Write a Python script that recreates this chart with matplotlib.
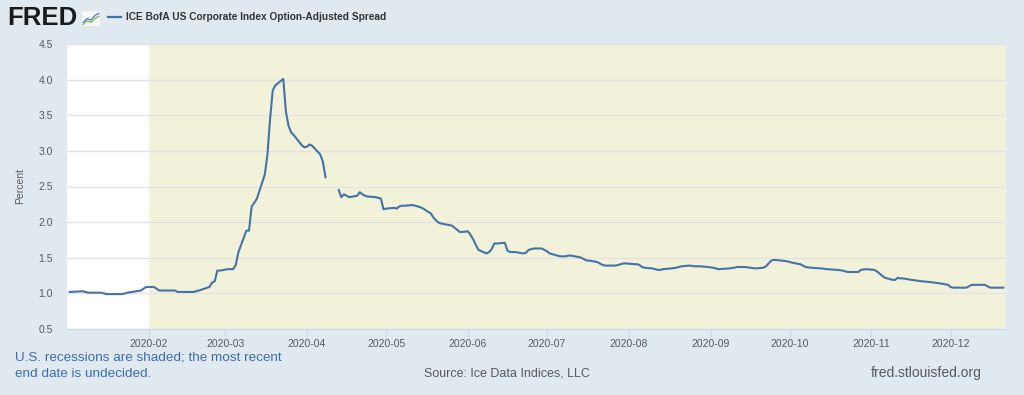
import matplotlib.pyplot as plt
import matplotlib.dates as mdates
import numpy as np
import pandas as pd

# ICE BofA US Corporate Index OAS, 2020 (percent); NaN marks the missing stretch in April
dates = [
    "2020-01-02", "2020-01-07", "2020-01-09", "2020-01-14", "2020-01-16", "2020-01-22",
    "2020-01-24", "2020-01-29", "2020-01-31", "2020-02-03", "2020-02-05", "2020-02-07",
    "2020-02-11", "2020-02-12", "2020-02-18", "2020-02-20", "2020-02-24", "2020-02-25",
    "2020-02-26", "2020-02-27", "2020-02-28", "2020-03-02", "2020-03-04", "2020-03-05",
    "2020-03-06", "2020-03-09", "2020-03-10", "2020-03-11", "2020-03-12", "2020-03-13",
    "2020-03-16", "2020-03-17", "2020-03-18", "2020-03-19", "2020-03-20", "2020-03-23",
    "2020-03-24", "2020-03-25", "2020-03-26", "2020-03-27", "2020-03-30", "2020-03-31",
    "2020-04-01", "2020-04-02", "2020-04-03", "2020-04-06", "2020-04-07", "2020-04-08",
    "2020-04-10", "2020-04-13", "2020-04-14", "2020-04-15", "2020-04-16", "2020-04-17",
    "2020-04-20", "2020-04-21", "2020-04-22", "2020-04-23", "2020-04-24", "2020-04-27",
    "2020-04-28", "2020-04-29", "2020-04-30", "2020-05-01", "2020-05-04", "2020-05-05",
    "2020-05-06", "2020-05-07", "2020-05-08", "2020-05-11", "2020-05-12", "2020-05-13",
    "2020-05-14", "2020-05-15", "2020-05-18", "2020-05-19", "2020-05-20", "2020-05-21",
    "2020-05-22", "2020-05-26", "2020-05-27", "2020-05-28", "2020-05-29", "2020-06-01",
    "2020-06-02", "2020-06-03", "2020-06-04", "2020-06-05", "2020-06-08", "2020-06-09",
    "2020-06-10", "2020-06-11", "2020-06-12", "2020-06-15", "2020-06-16", "2020-06-17",
    "2020-06-18", "2020-06-19", "2020-06-22", "2020-06-23", "2020-06-24", "2020-06-25",
    "2020-06-26", "2020-06-29", "2020-06-30", "2020-07-01", "2020-07-02", "2020-07-06",
    "2020-07-07", "2020-07-08", "2020-07-09", "2020-07-10", "2020-07-13", "2020-07-14",
    "2020-07-15", "2020-07-16", "2020-07-17", "2020-07-20", "2020-07-21", "2020-07-22",
    "2020-07-23", "2020-07-24", "2020-07-27", "2020-07-28", "2020-07-29", "2020-07-30",
    "2020-07-31", "2020-08-03", "2020-08-04", "2020-08-05", "2020-08-06", "2020-08-07",
    "2020-08-10", "2020-08-11", "2020-08-12", "2020-08-13", "2020-08-14", "2020-08-17",
    "2020-08-19", "2020-08-21", "2020-08-24", "2020-08-26", "2020-08-28", "2020-08-31",
    "2020-09-02", "2020-09-04", "2020-09-08", "2020-09-10", "2020-09-11", "2020-09-14",
    "2020-09-16", "2020-09-18", "2020-09-21", "2020-09-22", "2020-09-23", "2020-09-24",
    "2020-09-25", "2020-09-28", "2020-09-30", "2020-10-02", "2020-10-05", "2020-10-07",
    "2020-10-09", "2020-10-13", "2020-10-15", "2020-10-19", "2020-10-21", "2020-10-23",
    "2020-10-26", "2020-10-27", "2020-10-28", "2020-10-30", "2020-11-02", "2020-11-03",
    "2020-11-04", "2020-11-05", "2020-11-06", "2020-11-09", "2020-11-10", "2020-11-11",
    "2020-11-12", "2020-11-13", "2020-11-16", "2020-11-18", "2020-11-20", "2020-11-23",
    "2020-11-25", "2020-11-27", "2020-11-30", "2020-12-01", "2020-12-02", "2020-12-04",
    "2020-12-07", "2020-12-08", "2020-12-09", "2020-12-11", "2020-12-14", "2020-12-15",
    "2020-12-16", "2020-12-18", "2020-12-21",
]
spread = [
    1.02, 1.03, 1.01, 1.01, 0.99, 0.99,
    1.01, 1.04, 1.09, 1.09, 1.04, 1.04,
    1.04, 1.02, 1.02, 1.04, 1.09, 1.15,
    1.17, 1.32, 1.32, 1.34, 1.34, 1.40,
    1.58, 1.88, 1.88, 2.22, 2.27, 2.33,
    2.67, 2.95, 3.45, 3.85, 3.92, 4.01,
    3.55, 3.35, 3.26, 3.22, 3.08, 3.05,
    3.06, 3.09, 3.07, 2.95, 2.85, 2.63,
    np.nan, 2.45, 2.35, 2.39, 2.37, 2.35,
    2.37, 2.42, 2.39, 2.37, 2.36, 2.35,
    2.34, 2.33, 2.18, 2.19, 2.20, 2.19,
    2.22, 2.23, 2.23, 2.24, 2.23, 2.22,
    2.21, 2.19, 2.12, 2.06, 2.02, 1.99,
    1.98, 1.95, 1.92, 1.89, 1.86, 1.87,
    1.82, 1.76, 1.68, 1.61, 1.56, 1.58,
    1.62, 1.70, 1.70, 1.71, 1.60, 1.58,
    1.58, 1.58, 1.56, 1.57, 1.61, 1.62,
    1.63, 1.63, 1.61, 1.59, 1.56, 1.52,
    1.52, 1.52, 1.53, 1.53, 1.51, 1.50,
    1.48, 1.46, 1.46, 1.44, 1.42, 1.40,
    1.39, 1.39, 1.39, 1.40, 1.41, 1.42,
    1.42, 1.41, 1.41, 1.40, 1.37, 1.36,
    1.35, 1.34, 1.33, 1.33, 1.34, 1.35,
    1.36, 1.38, 1.39, 1.38, 1.38, 1.37,
    1.36, 1.34, 1.35, 1.36, 1.37, 1.37,
    1.36, 1.35, 1.36, 1.38, 1.42, 1.46,
    1.47, 1.46, 1.45, 1.43, 1.41, 1.37,
    1.36, 1.35, 1.34, 1.33, 1.32, 1.30,
    1.30, 1.30, 1.33, 1.34, 1.33, 1.31,
    1.28, 1.25, 1.22, 1.19, 1.19, 1.22,
    1.21, 1.21, 1.19, 1.18, 1.17, 1.16,
    1.15, 1.14, 1.12, 1.09, 1.08, 1.08,
    1.08, 1.10, 1.12, 1.12, 1.12, 1.10,
    1.08, 1.08, 1.08,
]
month_ticks = ["2020-02", "2020-03", "2020-04", "2020-05", "2020-06", "2020-07",
               "2020-08", "2020-09", "2020-10", "2020-11", "2020-12"]
recession_start = "2020-02-01"
x_range = ("2020-01-01", "2020-12-22")

BG = "#e1e9f0"
LINE = "#4572a7"
SHADE = "#f2f2da"
GREY = "#595959"

plt.rcParams["font.family"] = ["Liberation Sans", "DejaVu Sans"]

s = pd.Series(spread, index=pd.to_datetime(dates))

fig = plt.figure(figsize=(10.24, 3.95), dpi=100, facecolor=BG)
ax = fig.add_axes([67 / 1024, 1 - 329 / 395, (1006 - 67) / 1024, (329 - 44) / 395])
ax.set_facecolor("white")

x0, x1 = pd.to_datetime(x_range[0]), pd.to_datetime(x_range[1])
ax.axvspan(pd.to_datetime(recession_start), x1, color=SHADE, lw=0, zorder=0)
ax.plot(s.index, s.values, color=LINE, lw=1.5, zorder=3)

ax.set_xlim(x0, x1)
ax.set_ylim(0.5, 4.5)
ax.set_yticks(np.arange(0.5, 4.51, 0.5))
ax.yaxis.set_major_formatter(plt.FuncFormatter(lambda v, p: f"{v:.1f}"))
ax.grid(axis="y", color="#e3e3e3", lw=1, zorder=1)
ax.set_xticks(pd.to_datetime(month_ticks))
ax.xaxis.set_major_formatter(mdates.DateFormatter("%Y-%m"))

for side in ["top", "right", "left"]:
    ax.spines[side].set_visible(False)
ax.spines["bottom"].set_color("#ccd6eb")
ax.tick_params(axis="y", length=0, pad=10, labelsize=7.5, labelcolor=GREY)
ax.tick_params(axis="x", length=6, width=0.8, color="#ccd6eb", pad=1.5,
               labelsize=7.5, labelcolor=GREY)
for lbl in ax.get_xticklabels():
    lbl.set_fontfamily(["Liberation Sans Narrow", "Liberation Sans"])
ax.set_ylabel("Percent", fontsize=7.5, color=GREY, labelpad=10)

# header: FRED mark and legend
fig.text(7 / 1024, 1 - 18 / 395, "FRED", fontsize=18.5, fontweight="bold",
         color="#1a1a1a", va="center", ha="left")
icon = fig.add_axes([82 / 1024, 1 - 26 / 395, 18 / 1024, 15 / 395])
icon.set_facecolor("#f4f6f8")
icon.plot([0, 1, 2, 3, 4], [1, 2, 1.6, 2.8, 3.4], color="#4a7cc0", lw=0.9)
icon.plot([0, 1, 2, 3, 4], [0.4, 1.4, 1.0, 2.0, 2.6], color="#7bb34a", lw=0.9)
icon.set_xlim(-0.3, 4.3)
icon.set_ylim(0, 4)
icon.set_xticks([])
icon.set_yticks([])
for sp in icon.spines.values():
    sp.set_visible(False)

fig.add_artist(plt.Line2D([108 / 1024, 121 / 1024], [1 - 17 / 395] * 2,
                          color=LINE, lw=1.6))
fig.text(126 / 1024, 1 - 17 / 395, "ICE BofA US Corporate Index Option-Adjusted Spread",
         fontsize=7.3, fontweight="bold", color="#333333", va="center", ha="left")

# footer
fig.text(15 / 1024, 1 - 358 / 395, "U.S. recessions are shaded; the most recent",
         fontsize=9.7, color="#3b6cb0", va="center", ha="left")
fig.text(15 / 1024, 1 - 374 / 395, "end date is undecided.",
         fontsize=9.7, color="#3b6cb0", va="center", ha="left")
fig.text(507 / 1024, 1 - 373 / 395, "Source: Ice Data Indices, LLC",
         fontsize=9, color=GREY, va="center", ha="center")
fig.text(982 / 1024, 1 - 373 / 395, "fred.stlouisfed.org",
         fontsize=10, color=GREY, va="center", ha="right")

fig.savefig("out.png", dpi=100, facecolor=BG)
